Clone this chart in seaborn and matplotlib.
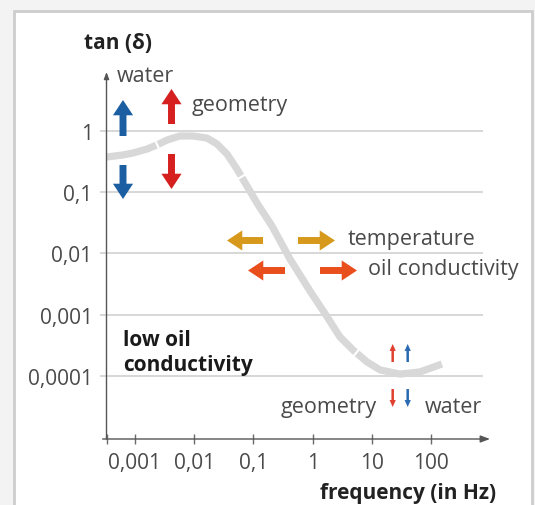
import matplotlib
matplotlib.use("Agg")
import matplotlib.pyplot as plt
import matplotlib.ticker as mticker
from matplotlib.patches import Rectangle
import seaborn as sns

# curve (frequency in Hz, tan delta)
freq = [3.30e-4, 6.26e-4, 9.25e-4, 1.60e-3, 2.35e-3, 3.48e-3, 5.75e-3, 9.55e-3,
        0.0164, 0.0243, 0.0358, 0.0528, 0.078, 0.115, 0.206, 0.415, 0.903,
        1.68, 2.90, 4.81, 8.30, 13.8, 29.9, 65.2, 153]
tan_delta = [0.372, 0.402, 0.433, 0.503, 0.585, 0.705, 0.820, 0.820,
             0.760, 0.607, 0.417, 0.237, 0.125, 0.0662, 0.0279, 0.00807, 0.00243,
             0.000986, 0.000432, 0.000265, 0.000169, 0.000125, 0.000107, 0.000116, 0.000156]

x_ticks = [0.001, 0.01, 0.1, 1, 10, 100]
x_labels = ["0,001", "0,01", "0,1", "1", "10", "100"]
y_ticks = [1, 0.1, 0.01, 0.001, 0.0001]
y_labels = ["1", "0,1", "0,01", "0,001", "0,0001"]

BLUE = "#1c5ea2"
RED = "#d61f1f"
GOLD = "#d7991c"
ORANGE = "#e94e1d"
CURVE = "#d8d8d8"
TEXT = "#4a4a4a"

W, H = 535, 506


def px(x, y):
    # reference pixel -> figure fraction
    return x / W, 1 - y / H


sns.set_theme(style="white")
plt.rcParams["font.family"] = ["Open Sans", "DejaVu Sans"]
plt.rcParams["lines.scale_dashes"] = False

fig = plt.figure(figsize=(W / 100, H / 100), dpi=100)
fig.patch.set_facecolor("#f4f3f3")
panel = Rectangle(px(13.5, 530), (532 - 13.5) / W, (530 - 12) / H, transform=fig.transFigure,
                  facecolor="white", edgecolor="#cdcdcd", lw=2, zorder=-1)
fig.add_artist(panel)
text_clip = Rectangle(px(0, 530), 519 / W, 1.2, transform=fig.transFigure, visible=False)
fig.add_artist(text_clip)

ax = fig.add_axes([106.5 / W, 1 - 440 / H, (490 - 106.5) / W, (440 - 73) / H])
ax.patch.set_alpha(0)

sns.lineplot(x=freq, y=tan_delta, sort=False, color=CURVE, lw=5.2, ax=ax, zorder=2)
curve = ax.lines[-1]
curve.set_dashes([37, 1.5, 73.7, 1.5, 150.3, 1.5, 80, 1.5])
curve.set_dash_capstyle("butt")

ax.set_xscale("log")
ax.set_yscale("log")
ax.set_xlim(10 ** -3.481, 10 ** 2.997)
ax.set_ylim(10 ** -5.03, 10 ** 0.958)

# horizontal guide lines
ax.hlines(y_ticks, 10 ** -3.59, 10 ** 2.88, color="#d4d4d4", lw=1.3, clip_on=False, zorder=1)

for s in ax.spines.values():
    s.set_visible(False)

ax.set_xticks(x_ticks)
ax.set_xticklabels(x_labels)
ax.xaxis.set_minor_locator(mticker.FixedLocator([10 ** -3.47]))
ax.xaxis.set_minor_formatter(mticker.NullFormatter())
ax.tick_params(axis="x", which="both", bottom=True, direction="inout", length=7, width=1,
               color="#6a6a6a", labelsize=15, labelcolor=TEXT, pad=6)
ax.set_yticks(y_ticks)
ax.set_yticklabels(y_labels)
ax.yaxis.set_minor_locator(mticker.NullLocator())
ax.tick_params(axis="y", length=0, labelsize=15, labelcolor=TEXT, pad=10)

# axis lines with arrow heads
axis_arrow = dict(arrowstyle="-|>,head_length=0.8,head_width=0.3", color="#555555",
                  lw=1, mutation_scale=7, shrinkA=0, shrinkB=0)
ax.annotate("", xy=(1, 0), xytext=(-0.01, 0), xycoords="axes fraction",
            arrowprops=axis_arrow, annotation_clip=False)
ax.annotate("", xy=(0, 1), xytext=(0, 0), xycoords="axes fraction",
            arrowprops=dict(axis_arrow, mutation_scale=5), annotation_clip=False)

# effect arrows: (tail, tip, colour, big)
effect_arrows = [
    ((123, 137), (123, 101), BLUE, True),
    ((123, 166), (123, 200), BLUE, True),
    ((171.5, 125), (171.5, 90), RED, True),
    ((171.5, 155), (171.5, 190), RED, True),
    ((263, 241.5), (227, 241.5), GOLD, True),
    ((298, 241.5), (335, 241.5), GOLD, True),
    ((285, 271.5), (248, 271.5), ORANGE, True),
    ((320, 271.5), (357, 271.5), ORANGE, True),
    ((392.7, 363), (392.7, 345), "#e04030", False),
    ((407.7, 363), (407.7, 345), "#2a6ab2", False),
    ((392.7, 390), (392.7, 408), "#e04030", False),
    ((407.7, 390), (407.7, 408), "#2a6ab2", False),
]
for tail, tip, col, big in effect_arrows:
    if big:
        style = "simple,head_length=11,head_width=14.5,tail_width=5"
    else:
        style = "simple,head_length=5,head_width=4.5,tail_width=1.8"
    ax.annotate("", xy=px(*tip), xytext=px(*tail), xycoords="figure fraction",
                arrowprops=dict(arrowstyle=style, color=col, lw=0, mutation_scale=1,
                                shrinkA=0, shrinkB=0), annotation_clip=False)

# labels
fig.text(*px(84, 44), "tan (δ)", fontsize=15, fontweight="bold", color="#222222", va="center")
fig.text(*px(496, 494), "frequency (in Hz)", fontsize=15, fontweight="bold",
         color="#222222", va="center", ha="right")
fig.text(*px(116.5, 76), "water", fontsize=15.5, color=TEXT, va="center")
fig.text(*px(191.7, 106), "geometry", fontsize=15.5, color=TEXT, va="center")
fig.text(*px(348, 240), "temperature", fontsize=15.5, color=TEXT, va="center")
oil = fig.text(*px(368, 269.5), "oil conductivity", fontsize=15.5, color=TEXT, va="center")
oil.set_clip_path(text_clip)
fig.text(*px(377, 408), "geometry", fontsize=15.5, color=TEXT, va="center", ha="right")
fig.text(*px(425, 408), "water", fontsize=15.5, color=TEXT, va="center")
fig.text(*px(123, 353), "low oil\nconductivity", fontsize=15, fontweight="bold",
         color="#1a1a1a", va="center", linespacing=1.2)

fig.savefig("out.png", dpi=100, facecolor=fig.get_facecolor())
